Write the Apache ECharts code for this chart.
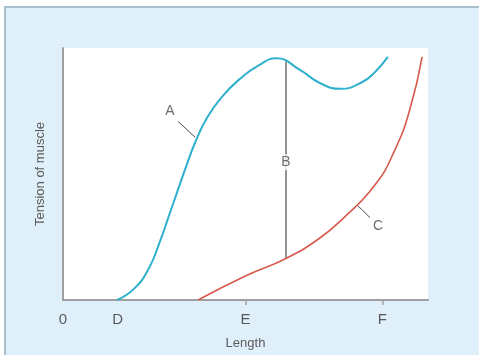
<!DOCTYPE html>
<html><head><meta charset="utf-8">
<script src="https://cdn.jsdelivr.net/npm/echarts@6/dist/echarts.min.js"></script>
<style>
html,body{margin:0;padding:0;background:#fff;}
#frame{position:absolute;left:4px;top:6px;width:475px;height:349px;background:#e0f0fb;border-left:2px solid #a8bfcd;border-top:2px solid #a8bfcd;box-sizing:border-box;}
#c{position:absolute;left:0;top:0;width:479px;height:355px;}
</style></head>
<body>
<div id="frame"></div>
<div id="c"></div>
<script>
// Length axis tick positions and labels
const tickValues = [0, 1.5, 5, 8.75];
const tickLabels = ['0', 'D', 'E', 'F'];
// Curve A (total tension)
const curveA = [[1.48,0],[1.95,0.45],[2.35,1.25],[2.65,2.3],[2.88,3.25],[3.12,4.25],[3.37,5.28],[3.62,6.25],[3.95,7.24],[4.36,8.07],[4.85,8.78],[5.34,9.29],[5.85,9.59],[6.49,9.13],[7.05,8.6],[7.6,8.38],[8.2,8.65],[8.55,9.05],[8.9,9.65]];
// Curve C (passive tension)
const curveC = [[3.7,0],[5.04,0.98],[6.11,1.65],[7.0,2.42],[7.67,3.23],[8.55,4.57],[9.1,5.98],[9.5,7.55],[9.84,9.65]];
// B: difference between A and C
const lineB = [[6.11,1.65],[6.11,9.47]];
const labelPoints = [{name:'A', value:[2.93,7.48]},{name:'B', value:[6.11,5.47]},{name:'C', value:[8.63,2.95]}];
const leaderA = [[3.15,7.09],[3.62,6.46]];
const leaderC = [[8.08,3.74],[8.41,3.27]];

const chart = echarts.init(document.getElementById('c'), null, {renderer:'canvas'});
const axisGrey = '#a0a0a0';
const textGrey = '#5a5a5a';
chart.setOption({
  animation:false,
  backgroundColor:'transparent',
  grid:{left:63, top:48, right:51, bottom:53, show:true, backgroundColor:'#ffffff', borderWidth:0},
  xAxis:{type:'value', min:0, max:10,
    name:'Length', nameLocation:'middle', nameGap:37,
    nameTextStyle:{color:textGrey, fontSize:13, fontFamily:'Liberation Sans'},
    axisLine:{show:true, lineStyle:{color:axisGrey, width:2}},
    axisTick:{show:true, customValues:[5, 8.75], length:5, lineStyle:{color:axisGrey, width:1.5}},
    axisLabel:{show:true, customValues:tickValues, margin:12, color:textGrey, fontSize:15, fontFamily:'Liberation Sans',
      formatter:function(v){ const i = tickValues.indexOf(v); return i>=0 ? tickLabels[i] : ''; }},
    splitLine:{show:false}},
  yAxis:{type:'value', min:0, max:10,
    name:'Tension of muscle', nameLocation:'middle', nameGap:16, nameRotate:90,
    nameTextStyle:{color:textGrey, fontSize:13, fontFamily:'Liberation Sans'},
    axisLine:{show:true, lineStyle:{color:axisGrey, width:2}},
    axisTick:{show:false}, axisLabel:{show:false}, splitLine:{show:false}},
  series:[
    {type:'line', data:curveA, smooth:0.5, symbol:'none', lineStyle:{color:'#2fb0cc', width:2}, z:3},
    {type:'line', data:curveC, smooth:0.5, symbol:'none', lineStyle:{color:'#d65a4c', width:1.6}, z:3},
    {type:'line', data:lineB, symbol:'none', lineStyle:{color:'#4a4a4a', width:1.2}, z:2},
    {type:'line', data:leaderA, symbol:'none', lineStyle:{color:'#4a4a4a', width:1}, z:2},
    {type:'line', data:leaderC, symbol:'none', lineStyle:{color:'#4a4a4a', width:1}, z:2},
    {type:'scatter', data:labelPoints, symbolSize:0, z:4,
      label:{show:true, position:'inside', formatter:'{b}', color:'#4a4a4a', fontSize:14, fontFamily:'Liberation Sans',
        backgroundColor:'#ffffff', padding:[1,1]}}
  ]
});
</script>
</body></html>
